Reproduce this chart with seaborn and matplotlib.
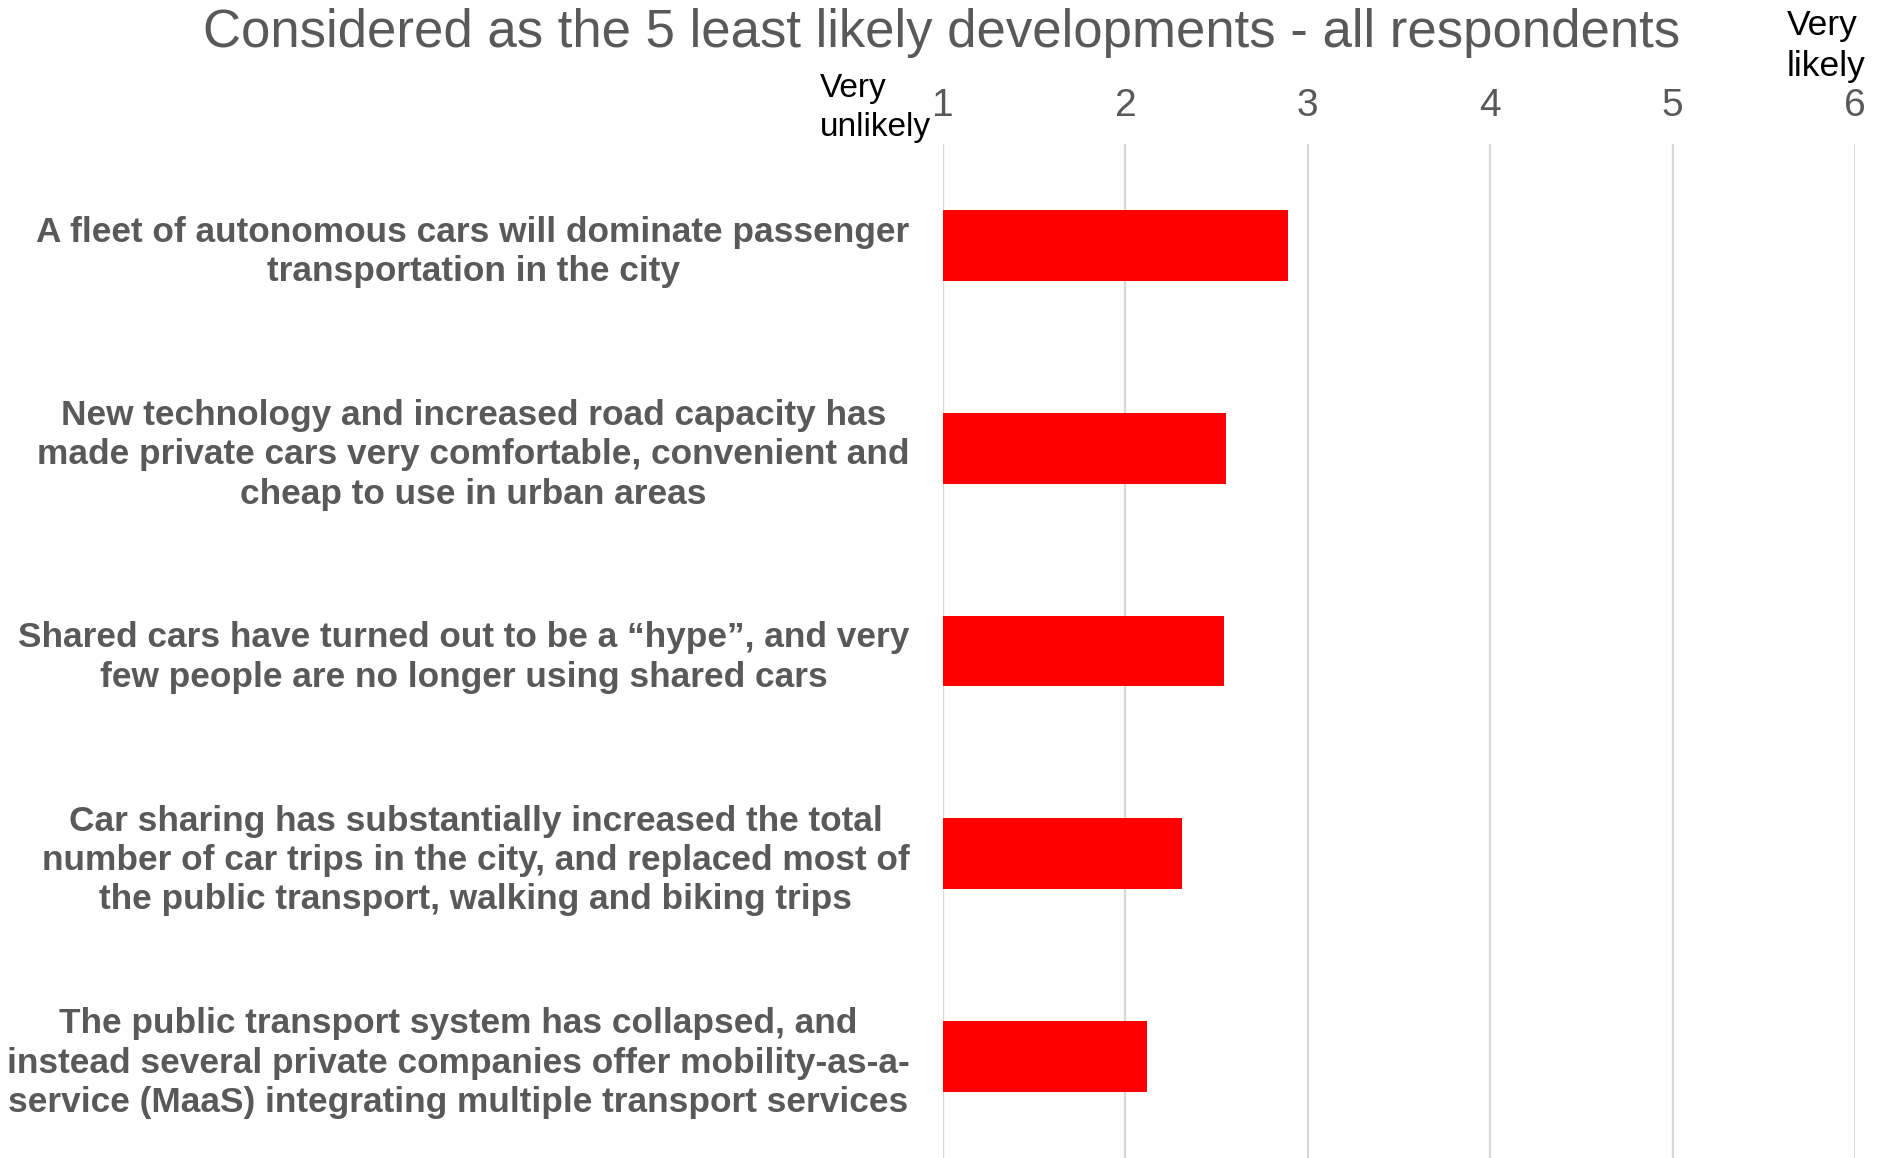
import matplotlib
matplotlib.use("Agg")
import matplotlib.pyplot as plt
import seaborn as sns
import pandas as pd

categories = [
    "A fleet of autonomous cars will dominate passenger\ntransportation in the city",
    "New technology and increased road capacity has\nmade private cars very comfortable, convenient and\ncheap to use in urban areas",
    "Shared cars have turned out to be a \u201chype\u201d, and very\nfew people are no longer using shared cars",
    "Car sharing has substantially increased the total\nnumber of car trips in the city, and replaced most of\nthe public transport, walking and biking trips",
    "The public transport system has collapsed, and\ninstead several private companies offer mobility-as-a-\nservice (MaaS) integrating multiple transport services",
]
values = [2.89, 2.55, 2.54, 2.31, 2.12]
tick_values = [1, 2, 3, 4, 5, 6]
tick_labels = ["1", "2", "3", "4", "5", "6"]
title = "Considered as the 5 least likely developments - all respondents"

sns.set_theme(style="white")
plt.rcParams['font.family'] = ['Liberation Sans', 'DejaVu Sans']

df = pd.DataFrame({"cat": categories, "val": values})

fig = plt.figure(figsize=(18.83, 11.58), dpi=100)
ax = fig.add_axes([943/1883, 0.0, 912/1883, 1 - 144/1158])

sns.barplot(data=df, x="val", y="cat", orient="h", color="#ff0000",
            width=0.35, saturation=1, ax=ax, linewidth=0)
ax.set_xlim(1, 6)
ax.set_ylim(4.5, -0.5)
ax.set_xlabel("")
ax.set_ylabel("")
ax.set_xticks(tick_values)
ax.set_xticklabels(tick_labels)
ax.xaxis.tick_top()
ax.tick_params(axis="x", length=0, pad=14.5, labelsize=28, labelcolor="#595959")
ax.tick_params(axis="y", length=0, pad=24, labelsize=25.4, labelcolor="#595959")
for t in ax.get_yticklabels():
    t.set_fontweight("bold")
    t.set_multialignment("center")
    t.set_linespacing(1.24)
ax.grid(axis="x", color="#d9d9d9", linewidth=1.6)
ax.set_axisbelow(True)
for s in ax.spines.values():
    s.set_visible(False)

fig.text(0.5, 1 - 33/1158, title, ha="center", va="center",
         fontsize=38, color="#595959")
fig.text(820/1883, 1 - 108/1158, "Very\nunlikely", ha="left", va="center",
         fontsize=24, color="black", linespacing=1.36)
fig.text(1787/1883, 1 - 46/1158, "Very\nlikely", ha="left", va="center",
         fontsize=25.5, color="black", linespacing=1.32)

fig.savefig("out.png", dpi=100)
